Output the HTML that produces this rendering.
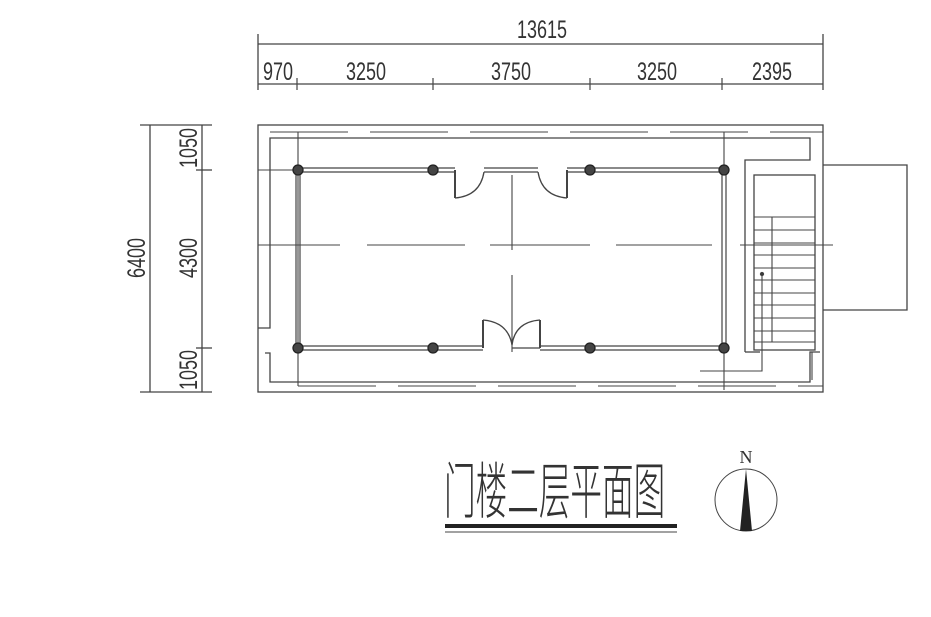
<!DOCTYPE html>
<html><head><meta charset="utf-8"><style>
html,body{margin:0;padding:0;background:#fff;width:931px;height:617px;overflow:hidden}
svg{display:block}
text{font-family:"Liberation Sans",sans-serif;fill:#333}
</style></head><body>
<svg width="931" height="617" viewBox="0 0 931 617" stroke="#444" fill="none" stroke-width="1.3">
<line x1="258" y1="44" x2="823" y2="44"/>
<line x1="258" y1="84" x2="823" y2="84"/>
<line x1="258" y1="34" x2="258" y2="90"/>
<line x1="823" y1="34" x2="823" y2="90"/>
<g stroke-width="1.2">
<line x1="297" y1="78" x2="297" y2="90"/><line x1="433" y1="78" x2="433" y2="90"/>
<line x1="590" y1="78" x2="590" y2="90"/><line x1="722" y1="78" x2="722" y2="90"/>
</g>
<g stroke="none" style="font-size:25px" text-anchor="middle">
<text transform="translate(542,38) scale(0.72,1)">13615</text>
<text transform="translate(278,80) scale(0.72,1)">970</text>
<text transform="translate(366,80) scale(0.72,1)">3250</text>
<text transform="translate(511,80) scale(0.72,1)">3750</text>
<text transform="translate(657,80) scale(0.72,1)">3250</text>
<text transform="translate(772,80) scale(0.72,1)">2395</text>
</g>
<line x1="150" y1="125" x2="150" y2="392"/>
<line x1="202" y1="125" x2="202" y2="392"/>
<line x1="140" y1="125" x2="212" y2="125"/>
<line x1="140" y1="392" x2="212" y2="392"/>
<line x1="196" y1="170" x2="212" y2="170"/>
<line x1="196" y1="348" x2="212" y2="348"/>
<g stroke="none" style="font-size:25px" text-anchor="middle">
<text transform="translate(145,258) rotate(-90) scale(0.72,1)">6400</text>
<text transform="translate(197,258) rotate(-90) scale(0.72,1)">4300</text>
<text transform="translate(197,148) rotate(-90) scale(0.72,1)">1050</text>
<text transform="translate(197,370) rotate(-90) scale(0.72,1)">1050</text>
</g>
<rect x="258" y="125" width="565" height="267"/>
<path d="M258 328 H270 V138 H810 V160 H745 V352"/>
<path d="M265 353 H270 V382 H810 V352 H820"/>
<line x1="745" y1="352" x2="760" y2="352"/>
<g stroke-width="1.1">
<path d="M270 132 H348 M370 132 H448 M470 132 H548 M570 132 H648 M670 132 H748 M770 132 H823"/>
<path d="M298 386 H376 M398 386 H476 M498 386 H576 M598 386 H676 M698 386 H776 M798 386 H823"/>
</g>
<path d="M823 165 H907 V310 H823"/>
<rect x="754" y="175" width="61" height="175"/>
<g stroke-width="1.1">
<line x1="754" y1="217" x2="815" y2="217"/><line x1="754" y1="230" x2="815" y2="230"/>
<line x1="754" y1="243" x2="815" y2="243"/><line x1="754" y1="255" x2="815" y2="255"/>
<line x1="754" y1="268" x2="815" y2="268"/><line x1="754" y1="280" x2="815" y2="280"/>
<line x1="754" y1="293" x2="815" y2="293"/><line x1="754" y1="305" x2="815" y2="305"/>
<line x1="754" y1="318" x2="815" y2="318"/><line x1="754" y1="331" x2="815" y2="331"/>
<line x1="754" y1="342" x2="815" y2="342"/>
<line x1="772" y1="217" x2="772" y2="342"/>
<path d="M762 274 V371 H700"/>
<path d="M812 352 V380"/>
</g>
<circle cx="762" cy="274" r="1.5" fill="#333"/>
<g stroke-width="1.1">
<line x1="258" y1="170" x2="298" y2="170"/>
<path d="M258 245 H340 M367 245 H465 M490 245 H590 M616 245 H712 M740 245 H833" />
<line x1="512" y1="175" x2="512" y2="250"/>
<line x1="512" y1="275" x2="512" y2="352"/>
<line x1="298" y1="132" x2="298" y2="386"/>
<line x1="724" y1="132" x2="724" y2="170"/>
<line x1="724" y1="348" x2="724" y2="390"/>
</g>
<g stroke-width="1.2">
<path d="M298 168 H455 M298 172 H455"/>
<path d="M484 168 H538 M484 172 H538"/>
<path d="M567 168 H724 M567 172 H724"/>
<path d="M296 170 V348 M300 170 V348"/>
<path d="M722 170 V348 M726 170 V348"/>
<path d="M298 346 H483 M298 350 H483"/>
<path d="M540 346 H724 M540 350 H724"/>
</g>
<g stroke-width="2">
<path d="M455 170 V198 M567 170 V198 M483 348 V320 M540 348 V320"/>
</g>
<path d="M455 198 Q480 196 484 172 M567 198 Q542 196 538 172 M483 320 Q508 322 512 345 M540 320 Q515 322 512 345"/>
<line x1="512" y1="348" x2="540" y2="348"/>
<g fill="#444" stroke="#222">
<circle cx="298" cy="170" r="5"/><circle cx="433" cy="170" r="5"/><circle cx="590" cy="170" r="5"/><circle cx="724" cy="170" r="5"/>
<circle cx="298" cy="348" r="5"/><circle cx="433" cy="348" r="5"/><circle cx="590" cy="348" r="5"/><circle cx="724" cy="348" r="5"/>
</g>
<text transform="translate(444,513) scale(0.93,1.8)" stroke="none" style="font-family:'Noto Sans CJK SC',sans-serif;font-size:34px;font-weight:300" fill="#333">门楼二层平面图</text>
<rect x="445" y="524" width="232" height="4" fill="#222" stroke="none"/>
<line x1="445" y1="532" x2="677" y2="532" stroke-width="1"/>
<circle cx="746" cy="500" r="31" stroke-width="1"/>
<path d="M746 469 L740 531 H752 Z" fill="#222" stroke="none"/>
<text x="746" y="463" text-anchor="middle" stroke="none" style="font-family:'Liberation Serif',serif;font-size:18px" fill="#222">N</text>
</svg>
</body></html>
